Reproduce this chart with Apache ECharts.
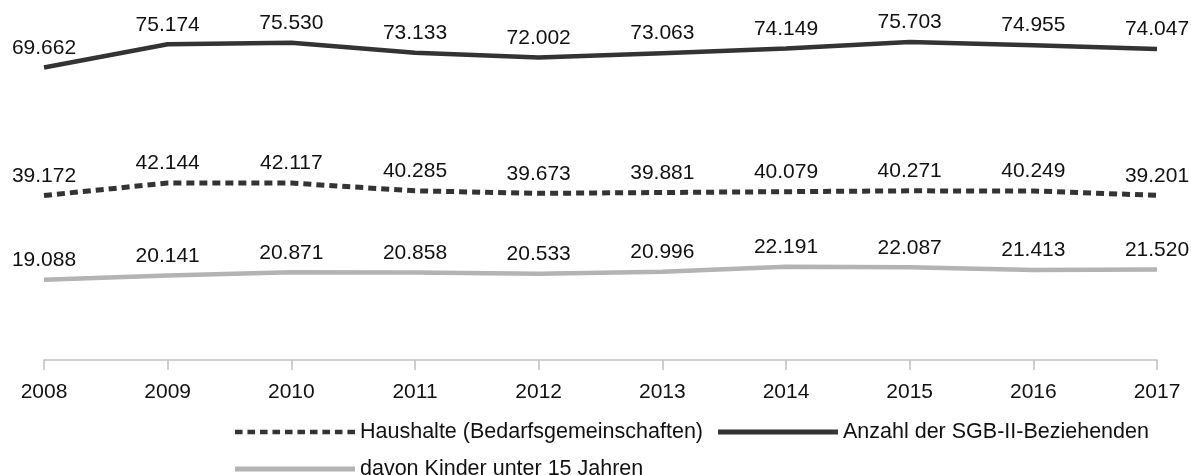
<!DOCTYPE html>
<html>
<head>
<meta charset="utf-8">
<script src="https://cdn.jsdelivr.net/npm/echarts@6/dist/echarts.min.js"></script>
<style>html,body{margin:0;padding:0;background:#fff}#c{width:1191px;height:475px}</style>
</head>
<body>
<div id="c"></div>
<script>
const years = ['2008','2009','2010','2011','2012','2013','2014','2015','2016','2017'];
const haushalte = [39172, 42144, 42117, 40285, 39673, 39881, 40079, 40271, 40249, 39201];
const beziehende = [69662, 75174, 75530, 73133, 72002, 73063, 74149, 75703, 74955, 74047];
const kinder = [19088, 20141, 20871, 20858, 20533, 20996, 22191, 22087, 21413, 21520];
const seriesNames = ['Haushalte (Bedarfsgemeinschaften)', 'Anzahl der SGB-II-Beziehenden', 'davon Kinder unter 15 Jahren'];

function fmt(v){
  const s = String(Math.round(v));
  return s.replace(/\B(?=(\d{3})+(?!\d))/g, '.');
}
const FONT = '"Liberation Sans", Arial, sans-serif';
const labelCfg = {show:true, position:'top', distance:9, fontSize:21, color:'#111', fontFamily:FONT,
  formatter: p => fmt(p.value)};

// legend icons (line-only)
let dashPath = 'path://';
for (let x = 0; x < 120; x += 13.2) { dashPath += 'M' + x + ',0h8v5h-8z'; }
const solidPath = 'path://M0,0h120v5h-120z';

const chart = echarts.init(document.getElementById('c'), null, {renderer:'canvas'});
chart.setOption({
  animation:false,
  textStyle:{fontFamily:FONT},
  grid:{left:44, right:34, top:24, bottom:115, containLabel:false},
  xAxis:{type:'category', data:years, boundaryGap:false,
    axisLine:{lineStyle:{color:'#c0c0c0', width:1.5}},
    axisTick:{show:true, length:10, alignWithLabel:true, lineStyle:{color:'#c0c0c0', width:1.5}},
    axisLabel:{fontSize:21, color:'#111', margin:22, fontFamily:FONT}
  },
  yAxis:{type:'value', min:0, max:80000, show:false, splitLine:{show:false}},
  legend:{left:230, top:416, width:950, itemWidth:120, itemHeight:5, itemGap:15,
    textStyle:{fontSize:21.5, color:'#111', fontFamily:FONT, padding:[0,0,0,0]},
    data:[
      {name:seriesNames[0], icon:dashPath},
      {name:seriesNames[1], icon:solidPath},
      {name:seriesNames[2], icon:solidPath}
    ]},
  series:[
    {name:seriesNames[0], type:'line', data:haushalte, symbol:'circle', symbolSize:0.01, showSymbol:true,
      lineStyle:{color:'#333', width:5, type:[8,5]}, itemStyle:{color:'#333'}, label:labelCfg},
    {name:seriesNames[1], type:'line', data:beziehende, symbol:'circle', symbolSize:0.01, showSymbol:true,
      lineStyle:{color:'#333', width:4.5}, itemStyle:{color:'#333'}, label:labelCfg},
    {name:seriesNames[2], type:'line', data:kinder, symbol:'circle', symbolSize:0.01, showSymbol:true,
      lineStyle:{color:'#b3b3b3', width:4.5}, itemStyle:{color:'#b3b3b3'}, label:labelCfg}
  ]
});
</script>
</body>
</html>
